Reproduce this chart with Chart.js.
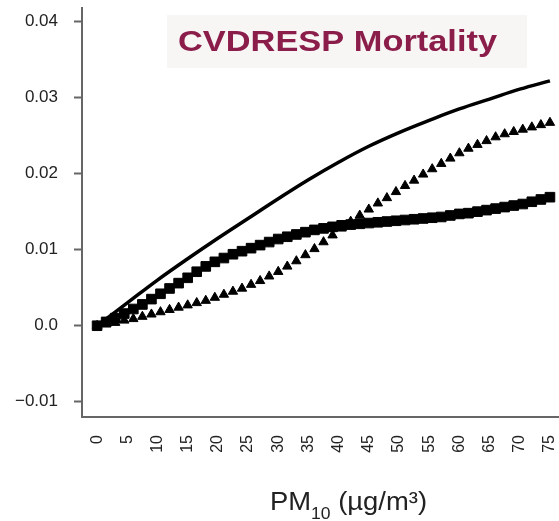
<!DOCTYPE html>
<html>
<head>
<meta charset="utf-8">
<title>CVDRESP Mortality</title>
<script src="https://cdn.jsdelivr.net/npm/chart.js@4.4.1/dist/chart.umd.min.js"></script>
<style>
  body { margin: 0; background: #fff; }
  #wrap { width: 559px; height: 521px; }
</style>
</head>
<body>
<div id="wrap"><canvas id="mortChart" width="559" height="521"></canvas></div>
<script>
// PM10 levels (µg/m3) where the two marker series are plotted
const pmLevels = [0, 1.5, 3, 4.5, 6, 7.5, 9, 10.5, 12, 13.5, 15, 16.5, 18, 19.5, 21, 22.5, 24, 25.5,
    27, 28.5, 30, 31.5, 33, 34.5, 36, 37.5, 39, 40.5, 42, 43.5, 45, 46.5, 48, 49.5, 51, 52.5,
    54, 55.5, 57, 58.5, 60, 61.5, 63, 64.5, 66, 67.5, 69, 70.5, 72, 73.5, 75];

// square markers
const squareValues = [0, 0.0005, 0.0010, 0.0016, 0.0022, 0.0028, 0.0035, 0.0042, 0.0049, 0.0056,
    0.0063, 0.0071, 0.0078, 0.0084, 0.0089, 0.0094, 0.0098, 0.0102, 0.0106, 0.0110,
    0.0114, 0.0117, 0.0120, 0.0123, 0.0126, 0.0128, 0.0130, 0.0132, 0.0133, 0.0134,
    0.0135, 0.0136, 0.0137, 0.0138, 0.0139, 0.0140, 0.0141, 0.0142, 0.0143, 0.0145,
    0.0147, 0.0148, 0.0150, 0.0152, 0.0154, 0.0156, 0.0158, 0.0160, 0.0163, 0.0166, 0.0169];

// triangle markers
const triangleValues = [0, 0.0002, 0.0004, 0.0007, 0.0009, 0.0012, 0.0015, 0.0018, 0.0021, 0.0024,
    0.0027, 0.0030, 0.0033, 0.0037, 0.0041, 0.0045, 0.0049, 0.0054, 0.0059, 0.0065,
    0.0071, 0.0078, 0.0085, 0.0093, 0.0101, 0.0110, 0.0119, 0.0128, 0.0137, 0.0145,
    0.0153, 0.0161, 0.0168, 0.0176, 0.0184, 0.0191, 0.0199, 0.0206, 0.0213, 0.0220,
    0.0227, 0.0233, 0.0238, 0.0243, 0.0248, 0.0252, 0.0255, 0.0258, 0.0261, 0.0264, 0.0267];

// solid curve
const linePm = [0, 5, 10, 15, 20, 25, 30, 35, 40, 45, 50, 55, 60, 65, 70, 75];
const lineValues = [0, 0.0030, 0.0060, 0.0088, 0.0115, 0.0141, 0.0167, 0.0192, 0.0215, 0.0236,
    0.0254, 0.0270, 0.0285, 0.0298, 0.0311, 0.0322];

const xTicks = [0, 5, 10, 15, 20, 25, 30, 35, 40, 45, 50, 55, 60, 65, 70, 75];
const yTicks = [-0.01, 0, 0.01, 0.02, 0.03, 0.04];
const yTickLabels = ['\u22120.01', '0.0', '0.01', '0.02', '0.03', '0.04'];

const chartTitle = 'CVDRESP Mortality';
const FONT = "'Liberation Sans', Arial, Helvetica, sans-serif";

function toPoints(xs, ys) {
    return xs.map((x, i) => ({ x: x, y: ys[i] }));
}

// let the plot run all the way to the right edge like the original
const stretchPlugin = {
    id: 'stretchPlugin',
    afterLayout(chart) {
        const area = chart.chartArea;
        const xs = chart.scales.x;
        area.right = chart.width;
        area.width = area.right - area.left;
        xs.right = chart.width;
        xs.width = xs.right - xs.left;
        xs.configure();
    }
};

// boxed title inside the plot and the PM10 axis title (subscript needs manual drawing)
const textPlugin = {
    id: 'textPlugin',
    afterDraw(chart) {
        const ctx = chart.ctx;
        ctx.save();
        ctx.fillStyle = '#f8f6f5';
        ctx.fillRect(167, 15, 360, 53);

        ctx.fillStyle = '#8b1d4a';
        ctx.font = 'bold 29px ' + FONT;
        ctx.textAlign = 'left';
        ctx.textBaseline = 'alphabetic';
        const tw = ctx.measureText(chartTitle).width;
        ctx.translate(178, 51);
        ctx.scale(319 / tw, 1);
        ctx.fillText(chartTitle, 0, 0);
        ctx.restore();

        ctx.save();
        ctx.fillStyle = '#222';
        ctx.textAlign = 'left';
        ctx.textBaseline = 'alphabetic';
        ctx.font = '25px ' + FONT;
        const wPM = ctx.measureText('PM').width;
        const wRest = ctx.measureText(' (\u00b5g/m\u00b3)').width;
        ctx.font = '16px ' + FONT;
        const wSub = ctx.measureText('10').width;
        ctx.translate(270, 510);
        ctx.scale(157 / (wPM + wSub + wRest), 1);
        ctx.font = '25px ' + FONT;
        ctx.fillText('PM', 0, 0);
        ctx.font = '16px ' + FONT;
        ctx.fillText('10', wPM, 9);
        ctx.font = '25px ' + FONT;
        ctx.fillText(' (\u00b5g/m\u00b3)', wPM + wSub, 0);
        ctx.restore();
    }
};

const ctx = document.getElementById('mortChart').getContext('2d');
const mortChart = new Chart(ctx, {
    type: 'scatter',
    data: {
        datasets: [{
            label: 'Curve',
            data: toPoints(linePm, lineValues),
            showLine: true,
            borderColor: '#000',
            borderWidth: 3.5,
            pointRadius: 0,
            tension: 0.4,
            fill: false
        }, {
            label: 'Squares',
            data: toPoints(pmLevels, squareValues),
            showLine: false,
            pointStyle: 'rect',
            pointRadius: 6.8,
            pointBackgroundColor: '#000',
            pointBorderColor: '#000',
            pointBorderWidth: 1
        }, {
            label: 'Triangles',
            data: toPoints(pmLevels, triangleValues),
            showLine: false,
            pointStyle: 'triangle',
            pointRadius: 5.4,
            pointBackgroundColor: '#000',
            pointBorderColor: '#000',
            pointBorderWidth: 1
        }]
    },
    options: {
        responsive: false,
        animation: false,
        layout: { padding: { top: 5, right: 0, left: 0, bottom: 0 } },
        plugins: {
            legend: { display: false },
            tooltip: { enabled: false }
        },
        scales: {
            x: {
                type: 'linear',
                min: -2.5,
                max: 76.5,
                afterBuildTicks: scale => { scale.ticks = xTicks.map(v => ({ value: v })); },
                afterFit: scale => {
                    scale.height = 104;
                    scale.paddingLeft = 0;
                    scale.paddingRight = 0;
                },
                border: { display: true, color: '#666', width: 2 },
                grid: { display: false, drawTicks: false },
                ticks: {
                    minRotation: 90,
                    maxRotation: 90,
                    padding: 18,
                    color: '#222',
                    font: { family: FONT, size: 16 },
                    callback: v => String(v)
                }
            },
            y: {
                type: 'linear',
                min: -0.012,
                max: 0.0418,
                afterBuildTicks: scale => { scale.ticks = yTicks.map(v => ({ value: v })); },
                afterFit: scale => {
                    scale.width = 82;
                    scale.paddingTop = 0;
                    scale.paddingBottom = 0;
                },
                border: { display: true, color: '#666', width: 2 },
                grid: {
                    drawOnChartArea: false,
                    drawTicks: true,
                    tickLength: 8,
                    tickColor: '#666',
                    tickWidth: 2
                },
                ticks: {
                    padding: 16,
                    color: '#222',
                    font: { family: FONT, size: 17 },
                    callback: (v, i) => yTickLabels[i]
                }
            }
        }
    },
    plugins: [stretchPlugin, textPlugin]
});
</script>
</body>
</html>
